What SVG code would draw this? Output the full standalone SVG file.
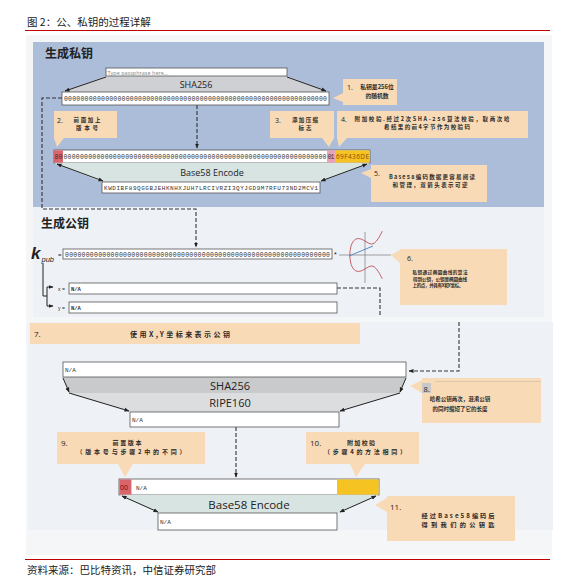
<svg xmlns="http://www.w3.org/2000/svg" width="579" height="588" viewBox="0 0 579 588">
<style>
.co{fill:#f8dab6}
.cn{font-family:"Noto Sans CJK SC",sans-serif;font-weight:700;fill:#2a2a2a;text-anchor:middle}
.num{font-family:"Open Sans","Liberation Sans",sans-serif;fill:#222}
.box{fill:#fff;stroke:#555;stroke-width:0.8}
.mono{font-family:"Liberation Mono",monospace;fill:#333}
.dash{fill:none;stroke:#333;stroke-width:1.1;stroke-dasharray:4 2}
.arr{fill:none;stroke:#222;stroke-width:1}
.lbl{font-family:"Open Sans","Liberation Sans",sans-serif;fill:#222;text-anchor:middle}
.hd{font-family:"Noto Sans CJK SC",sans-serif;font-weight:700;font-size:12px;fill:#222}
</style>
<defs>
<marker id="ah" viewBox="0 0 10 10" refX="9" refY="5" markerWidth="5" markerHeight="5" orient="auto-start-reverse" markerUnits="userSpaceOnUse"><path d="M0,1 L10,5 L0,9 z" fill="#222"/></marker>
</defs>
<rect width="579" height="588" fill="#fff"/>
<text x="27" y="26" font-family="Noto Sans CJK SC,sans-serif" font-size="10.5" fill="#222">图 2：公、私钥的过程详解</text>
<line x1="25" y1="30.5" x2="550" y2="30.5" stroke="#c00000" stroke-width="1.2"/>
<rect x="26" y="35" width="526" height="520" fill="#f5f6f8"/>
<rect x="33" y="42" width="511" height="165" fill="#abbdd8"/>
<rect x="33" y="207" width="511" height="110" fill="#eef2f7"/>
<rect x="28" y="322" width="525" height="208" fill="#eef2f6"/>
<text class="hd" x="45" y="57.5">生成私钥</text>
<text class="hd" x="41" y="227.5">生成公钥</text>

<g id="connectors">
<path class="dash" d="M62,98 H42 V209 H196 V247" marker-end="url(#ah)"/>
<path class="dash" d="M197,105 V148" marker-end="url(#ah)"/>
<path class="dash" d="M337,288 H380 V317"/>
<path class="dash" d="M459,322 V371 H409" marker-end="url(#ah)"/>
<path class="dash" d="M236,427 V477" marker-end="url(#ah)"/>
<path class="arr" d="M43,263 V296 H47"/>
<path class="arr" d="M53,287 H47 V306 H53" marker-start="url(#ah)" marker-end="url(#ah)"/>
</g>

<g id="sha256-top">
<polygon points="106,76 287,76 329,92 62,92" fill="#cfd0d4"/>
<path class="arr" d="M106,77 L65,91" marker-end="url(#ah)"/>
<path class="arr" d="M287,77 L326,91" marker-end="url(#ah)"/>
<text class="lbl" x="196" y="88" font-size="9">SHA256</text>
</g>
<g id="passphrase">
<rect class="box" x="106" y="68" width="181" height="8"/>
<text x="107.5" y="74.5" font-family="Open Sans,Liberation Sans,sans-serif" font-size="5.5" fill="#888">Type passphrase here...</text>
</g>
<g id="hash">
<rect class="box" x="62" y="92" width="267" height="13"/>
<text class="mono" x="64" y="101" font-size="6.5" textLength="263">0000000000000000000000000000000000000000000000000000000000000000</text>
</g>
<g id="c1">
<path class="co" d="M343,79 H397 V105 H343 V102 L333,98 L343,93 Z"/>
<text class="num" x="347" y="89.5" font-size="7">1.</text>
<text class="cn" x="377" y="89" font-size="5.8">私钥是256位</text>
<text class="cn" x="377" y="97.5" font-size="5.8">的随机数</text>
</g>
<g id="c2">
<path class="co" d="M54,111 H117 V138 H64 L57,147 L54,138 Z"/>
<text class="num" x="57" y="122.5" font-size="7">2.</text>
<text class="cn" x="87" y="121.5" font-size="5.5" textLength="27">前面加上</text>
<text class="cn" x="87" y="129.5" font-size="5.5" textLength="22">版本号</text>
</g>
<g id="c3">
<path class="co" d="M270,111 H334 V138 L329,147 L322,138 H270 Z"/>
<text class="num" x="275" y="122.5" font-size="7">3.</text>
<text class="cn" x="305" y="121.5" font-size="5.5" textLength="26">添加压缩</text>
<text class="cn" x="305" y="129.5" font-size="5.5" textLength="13">标志</text>
</g>
<g id="c4">
<path class="co" d="M337,111 H528 V138 H347 L339,147 L337,138 Z"/>
<text class="num" x="341" y="122" font-size="7">4.</text>
<text class="cn" x="432" y="120.5" font-size="5.5" textLength="155">附加校验.经过2次SHA-256算法校验，取两次哈</text>
<text class="cn" x="427" y="128.5" font-size="5.5" textLength="86">希结果的前4字节作为校验码</text>
</g>
<g id="row1">
<rect class="box" x="54" y="150" width="316" height="13"/>
<rect x="54" y="150.4" width="9" height="12.2" fill="#d9646c"/>
<rect x="327" y="150.4" width="8" height="12.2" fill="#e9a3b8"/>
<rect x="335" y="150.4" width="34.6" height="12.2" fill="#f5c423"/>
<text class="mono" x="54.5" y="159" font-size="6.5" textLength="8" fill="#6a1010">80</text>
<text class="mono" x="63.5" y="159" font-size="6.5" textLength="263">0000000000000000000000000000000000000000000000000000000000000000</text>
<text class="mono" x="327.5" y="159" font-size="6.5" textLength="7">01</text>
<text x="336" y="159" font-family="Open Sans,Liberation Sans,sans-serif" font-size="6.5" textLength="33" fill="#8a4a10">69F436DE</text>
</g>
<g id="base58-top">
<polygon points="54,163 370,163 320,182 102,182" fill="#d8e4e2"/>
<path class="arr" d="M57,164 L103,181" marker-start="url(#ah)" marker-end="url(#ah)"/>
<path class="arr" d="M367,164 L321,181" marker-start="url(#ah)" marker-end="url(#ah)"/>
<text class="lbl" x="212" y="175.5" font-size="9">Base58 Encode</text>
</g>
<g id="wif">
<rect class="box" x="102" y="182" width="218" height="11"/>
<text class="mono" x="104" y="190" font-size="6" textLength="214">KWDIBF89QGGBJEHKNHXJUH7LRCIVRZI3QYJGD9M7RFU73ND2MCV1</text>
</g>
<g id="c5">
<path class="co" d="M371,165 H487 V202 H371 V178 L361,173 L371,169 Z"/>
<text class="num" x="374" y="175.5" font-size="7">5.</text>
<text class="cn" x="432" y="179" font-size="5.5" textLength="86">Base58编码数据更容易阅读</text>
<text class="cn" x="430" y="187" font-size="5.5" textLength="75">和管理，双箭头表示可逆</text>
</g>

<g id="kpub">
<text x="31" y="259" font-family="Liberation Sans,sans-serif" font-weight="700" font-style="italic" font-size="17" fill="#222">k</text>
<text x="41.5" y="262" font-family="Liberation Sans,sans-serif" font-style="italic" font-size="7.5" fill="#222">pub</text>
<text x="58" y="256.5" font-family="Liberation Sans,sans-serif" font-size="6" fill="#222">=</text>
<rect class="box" x="63" y="249" width="269" height="10"/>
<text class="mono" x="65" y="256.5" font-size="6.5" textLength="265">0000000000000000000000000000000000000000000000000000000000000000</text>
<text x="334" y="257" font-family="Liberation Sans,sans-serif" font-size="7" fill="#222">*</text>
</g>
<g id="curve">
<line x1="339" y1="255" x2="391" y2="255" stroke="#888" stroke-width="0.8"/>
<line x1="365" y1="232" x2="365" y2="283" stroke="#888" stroke-width="0.8"/>
<polyline fill="none" stroke="#c0505a" stroke-width="0.9" stroke-linejoin="round" points="382.3,231.2 380,235.7 378.2,238.6 376.5,241 374.2,243.2 371.6,244.1 368.5,243.1 365,241 361.6,239.2 358.4,238.5 355.8,239.1 353.5,241 352.4,242.7 351.2,245.4 350.1,250.5 349.8,255 350.1,259.5 351.2,264.6 352.4,267.3 353.5,269 355.8,270.9 358.4,271.5 361.6,270.8 365,269 368.5,266.9 371.6,265.9 374.2,266.8 376.5,269 378.2,271.4 380,274.3 382.3,278.8"/>
<line x1="349" y1="256" x2="373" y2="246" stroke="#4a7fc0" stroke-width="0.9"/>
</g>
<g id="c6">
<path class="co" d="M400,249 H507 V305 H400 V263 L391,255 L400,250 Z"/>
<text class="num" x="407" y="260.5" font-size="7">6.</text>
<text class="cn" x="440" y="274" font-size="4.6" textLength="55">私钥通过椭圆曲线的算法</text>
<text class="cn" x="440" y="280.6" font-size="4.6" textLength="54">得到公钥，公钥是椭圆曲线</text>
<text class="cn" x="438" y="287.2" font-size="4.6" textLength="51">上的点，并具有X和Y坐标。</text>
</g>
<g id="xy">
<text x="58" y="290.5" font-family="Liberation Sans,sans-serif" font-size="5" fill="#222">x =</text>
<rect class="box" x="69" y="283" width="268" height="11"/>
<text class="mono" x="71" y="291" font-size="5.5" font-weight="700">N/A</text>
<text x="58" y="309.5" font-family="Liberation Sans,sans-serif" font-size="5" fill="#222">y =</text>
<rect class="box" x="69" y="302" width="268" height="11"/>
<text class="mono" x="71" y="310" font-size="5.5" font-weight="700">N/A</text>
</g>

<g id="c7">
<rect class="co" x="30" y="323" width="330" height="21"/>
<text class="num" x="34" y="337" font-size="8">7.</text>
<text class="cn" x="180" y="336.5" font-size="7" textLength="100">使用X,Y坐标来表示公钥</text>
</g>
<g id="hash160">
<polygon points="63,377 406,377 400,393 69,393" fill="#c9cacc"/>
<polygon points="69,393 400,393 339,412 130,412" fill="#dcdddf"/>
<path class="arr" d="M63,378 L69,392" marker-end="url(#ah)"/>
<path class="arr" d="M69,393 L129,411" marker-end="url(#ah)"/>
<path class="arr" d="M406,378 L400,392" marker-end="url(#ah)"/>
<path class="arr" d="M400,393 L340,411" marker-end="url(#ah)"/>
<text class="lbl" x="230" y="390" font-size="11">SHA256</text>
<text class="lbl" x="230" y="407" font-size="11">RIPE160</text>
</g>
<g id="pubxy">
<rect class="box" x="63" y="362" width="343" height="15"/>
<text class="mono" x="65" y="372" font-size="6">N/A</text>
</g>
<g id="h160">
<rect class="box" x="130" y="412" width="209" height="15"/>
<text class="mono" x="132" y="422" font-size="6">N/A</text>
</g>
<g id="c8">
<path class="co" d="M422,378 H541 V423 H422 V393 L410,386 L422,380 Z"/>
<line x1="435" y1="381.5" x2="541" y2="381.5" stroke="#bfb5a8" stroke-width="0.5"/>
<rect x="422" y="383" width="9" height="10" fill="#c8c8c8"/>
<text class="num" x="423.5" y="391.5" font-size="7.5">8.</text>
<text class="cn" x="460" y="401" font-size="5.5">哈希公钥两次，混淆公钥</text>
<text class="cn" x="460" y="411" font-size="5.5">的同时缩短了它的长度</text>
</g>
<g id="c9">
<path class="co" d="M57,432 H205 V464 H133 L125,477 L118,464 H57 Z"/>
<text class="num" x="61" y="446" font-size="8">9.</text>
<text class="cn" x="127" y="445" font-size="6" textLength="29">前置版本</text>
<text class="cn" x="131" y="454" font-size="6" textLength="109">（版本号与步骤2中的不同）</text>
</g>
<g id="c10">
<path class="co" d="M306,432 H419 V464 H365 L356,477 L350,464 H306 Z"/>
<text class="num" x="310" y="446" font-size="8">10.</text>
<text class="cn" x="361" y="445" font-size="6" textLength="28">附加校验</text>
<text class="cn" x="365" y="454" font-size="6" textLength="82">（步骤4的方法相同）</text>
</g>
<g id="row2">
<rect class="box" x="119" y="479" width="260" height="16"/>
<rect x="119.4" y="479.4" width="12" height="15.2" fill="#d9646c"/>
<rect x="337" y="479.4" width="41.6" height="15.2" fill="#f5c423"/>
<text x="120" y="490" font-family="Open Sans,Liberation Sans,sans-serif" font-size="7" fill="#6a1010">00</text>
<text class="mono" x="136" y="490" font-size="6">N/A</text>
</g>
<g id="base58-bottom">
<polygon points="119,495 379,495 339,513 158,513" fill="#d8e4e2"/>
<path class="arr" d="M122,496 L158,512" marker-start="url(#ah)" marker-end="url(#ah)"/>
<path class="arr" d="M376,496 L340,512" marker-start="url(#ah)" marker-end="url(#ah)"/>
<text class="lbl" x="249" y="509" font-size="11.5">Base58 Encode</text>
</g>
<g id="addr">
<rect class="box" x="158" y="513" width="179" height="17"/>
<text class="mono" x="160" y="524" font-size="6">N/A</text>
</g>
<g id="c11">
<path class="co" d="M387,496 H515 V541 H387 V512 L375,505 L387,498 Z"/>
<text class="num" x="390" y="510" font-size="8">11.</text>
<text class="cn" x="458" y="518" font-size="6.2" textLength="73">经过Base58编码后</text>
<text class="cn" x="458" y="527" font-size="6.2" textLength="73">得到我们的公钥匙</text>
</g>
<line x1="25" y1="559.5" x2="550" y2="559.5" stroke="#c00000" stroke-width="1.2"/>
<text x="27" y="574" font-family="Noto Sans CJK SC,sans-serif" font-size="10.5" fill="#222">资料来源：巴比特资讯，中信证券研究部</text>
</svg>
